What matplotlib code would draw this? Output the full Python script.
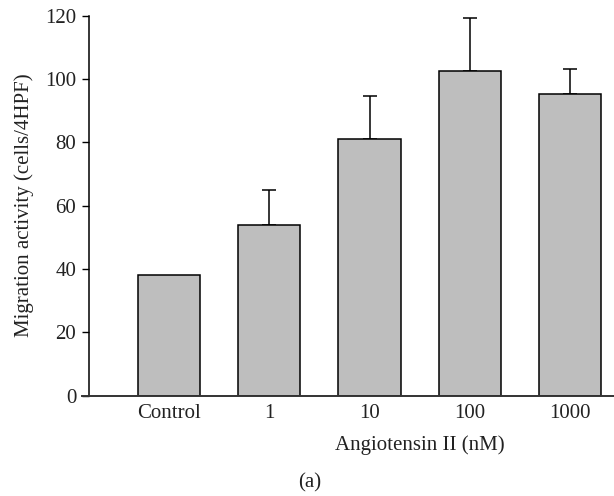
import matplotlib.pyplot as plt

plt.rcParams['font.family'] = ['Liberation Serif', 'DejaVu Serif']

categories = ['Control', '1', '10', '100', '1000']
means = [38, 54, 81.2, 102.5, 95.3]
upper_err = [0, 11, 13.3, 16.8, 7.8]

fig = plt.figure(figsize=(6.14, 4.96), dpi=100)
ax = fig.add_axes([0.1445, 0.2023, 0.8555, 0.766])

x = list(range(len(categories)))
ax.bar(x, means, width=0.62, color='#bebebe', edgecolor='black', linewidth=1.1, zorder=2)
ax.errorbar(x[1:], means[1:], yerr=[[0] * 4, upper_err[1:]], fmt='none',
            ecolor='black', elinewidth=1.1, capsize=4.7, capthick=1.1, zorder=1)

ax.set_xlim(-0.798, 4.436)
ax.set_ylim(0, 120)
ax.set_yticks(range(0, 121, 20))
ax.set_xticks(x)
ax.set_xticklabels(categories)
ax.tick_params(axis='x', length=0, pad=6, labelsize=15, colors='#222222')
ax.tick_params(axis='y', length=5, width=1, pad=4, labelsize=15, colors='#222222')
ax.tick_params(axis='y', color='black')

for side in ('top', 'right'):
    ax.spines[side].set_visible(False)
ax.spines['left'].set_linewidth(1.1)
ax.spines['bottom'].set_linewidth(1.4)
ax.spines['bottom'].set_color('#333333')
ax.spines['bottom'].set_bounds(-0.798 - 7 / 100.35, 4.436)

fig.text(24 / 614, 1 - 205 / 496, 'Migration activity (cells/4HPF)', rotation=90,
         ha='center', va='center', fontsize=15, color='#222222')
fig.text(420 / 614, 1 - 445 / 496, 'Angiotensin II (nM)', ha='center', va='center',
         fontsize=15, color='#222222')
fig.text(310 / 614, 1 - 483 / 496, '(a)', ha='center', va='center', fontsize=15,
         color='#222222')

fig.savefig('out.png', dpi=100)
